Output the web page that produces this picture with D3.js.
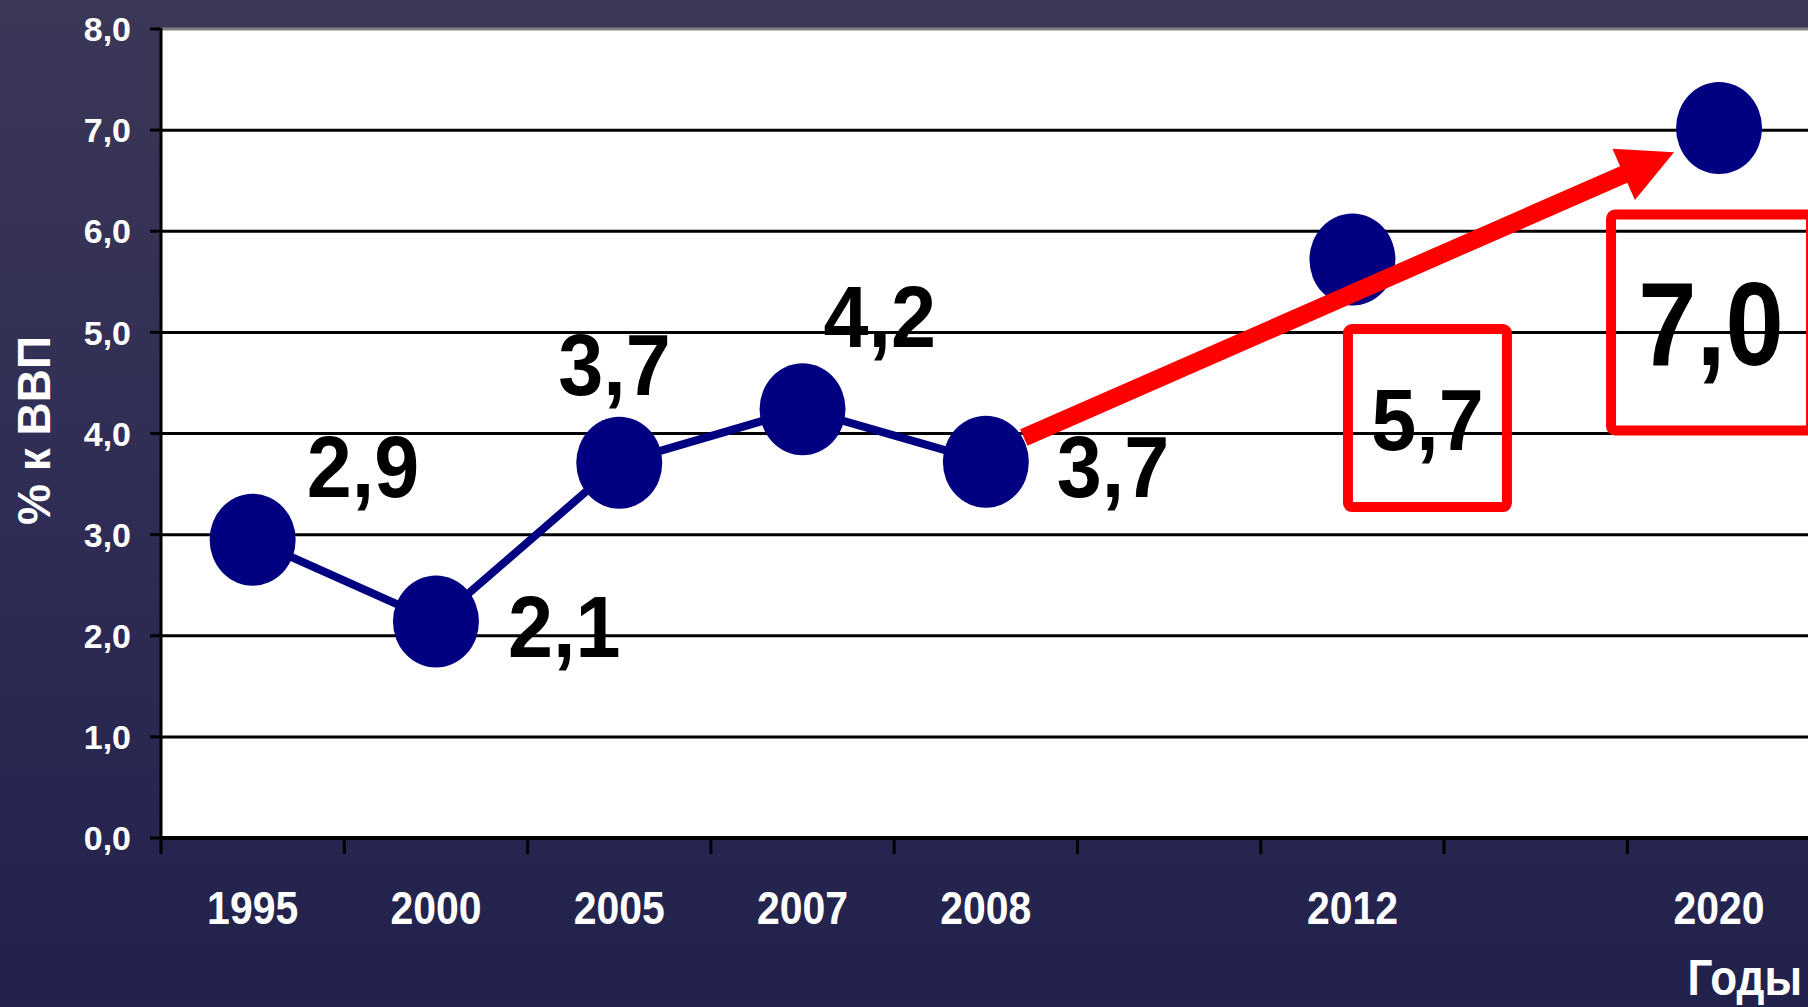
<!DOCTYPE html>
<html>
<head>
<meta charset="UTF-8">
<title>% к ВВП</title>
<script src="https://cdn.jsdelivr.net/npm/d3@7"></script>
<style>
  body { margin: 0; background: #2b2a50; }
  svg { display: block; }
  text { font-family: "Liberation Sans", Arial, sans-serif; font-weight: bold; }
</style>
</head>
<body>
<svg id="chart" width="1808" height="1007"></svg>
<script>
// categories on the x axis (two empty slots keep the spacing of the original)
const categories = ["1995", "2000", "2005", "2007", "2008", "", "2012", "", "2020"];

// actual values, joined by a line
const actualYears = ["1995", "2000", "2005", "2007", "2008"];
const actualValues = [2.95, 2.14, 3.71, 4.24, 3.72];
const actualLabels = ["2,9", "2,1", "3,7", "4,2", "3,7"];

// targets, markers only
const targetYears = ["2012", "2020"];
const targetValues = [5.72, 7.02];
const targetLabels = ["5,7", "7,0"];

const yTicks = [0, 1, 2, 3, 4, 5, 6, 7, 8];

// arrow from 2008 towards 2020
const arrowFrom = { year: "2008", value: 3.96 };
const arrowTo = { year: "2020", value: 6.78 };

// layout
const W = 1808, H = 1007;
const plotLeft = 161, plotTop = 29, plotBottom = 838;
const step = 183.3;
const actualLabelOffsets = [[54, -43], [72, 35], [-61, -68], [21, -62], [71, 35]];
const targetLabelOffsets = [[75, 190], [-8, 237]];
const targetFont = [88, 119];
const targetBox = [[159, 178], [200, 216]];

const svg = d3.select("#chart");

// background
const defs = svg.append("defs");
const grad = defs.append("linearGradient").attr("id", "bg")
    .attr("x1", 0).attr("y1", 0).attr("x2", 0).attr("y2", 1);
grad.append("stop").attr("offset", "0%").attr("stop-color", "#3b3757");
grad.append("stop").attr("offset", "55%").attr("stop-color", "#2e2c55");
grad.append("stop").attr("offset", "100%").attr("stop-color", "#21214b");
svg.append("rect").attr("width", W).attr("height", H).attr("fill", "url(#bg)");

// scales
const x = d3.scaleBand()
    .domain(d3.range(categories.length))
    .range([plotLeft, plotLeft + step * categories.length])
    .paddingInner(0).paddingOuter(0);
const y = d3.scaleLinear().domain([0, 8]).range([plotBottom, plotTop]);
const cx = year => x(categories.indexOf(year)) + x.bandwidth() / 2;

// plot area
svg.append("rect")
    .attr("x", plotLeft).attr("y", y(8))
    .attr("width", W - plotLeft).attr("height", y(0) - y(8))
    .attr("fill", "#fff");

// gridlines
svg.append("g").selectAll("line")
    .data(yTicks.filter(d => d > 0))
    .join("line")
    .attr("x1", plotLeft).attr("x2", W)
    .attr("y1", d => y(d)).attr("y2", d => y(d))
    .attr("stroke", d => d === 8 ? "#808080" : "#000")
    .attr("stroke-width", 3);

// y axis
const fmt = d => d3.format(".1f")(d).replace(".", ",");
svg.append("line")
    .attr("x1", plotLeft).attr("x2", plotLeft)
    .attr("y1", y(8) - 1).attr("y2", y(0))
    .attr("stroke", "#000").attr("stroke-width", 3);
svg.append("g").selectAll("line")
    .data(yTicks)
    .join("line")
    .attr("x1", plotLeft - 11).attr("x2", plotLeft)
    .attr("y1", d => y(d)).attr("y2", d => y(d))
    .attr("stroke", "#000").attr("stroke-width", 3);
svg.append("g").selectAll("text")
    .data(yTicks)
    .join("text")
    .attr("x", 131).attr("y", d => y(d))
    .attr("dy", "0.36em")
    .attr("text-anchor", "end")
    .attr("fill", "#fff")
    .attr("font-size", 34)
    .text(fmt);

svg.append("text")
    .attr("transform", "translate(50," + ((y(0) + y(8)) / 2 - 3) + ") rotate(-90)")
    .attr("text-anchor", "middle")
    .attr("fill", "#fff")
    .attr("font-size", 46)
    .text("% к ВВП");

// x axis
svg.append("line")
    .attr("x1", plotLeft - 1).attr("x2", W)
    .attr("y1", y(0)).attr("y2", y(0))
    .attr("stroke", "#000").attr("stroke-width", 4);
svg.append("g").selectAll("line")
    .data(d3.range(categories.length + 1))
    .join("line")
    .attr("x1", i => plotLeft + i * x.step()).attr("x2", i => plotLeft + i * x.step())
    .attr("y1", y(0)).attr("y2", y(0) + 16)
    .attr("stroke", "#000").attr("stroke-width", 3);
svg.append("g").selectAll("text")
    .data(categories)
    .join("text")
    .attr("transform", (d, i) => "translate(" + (x(i) + x.bandwidth() / 2) + ",924) scale(0.89,1)")
    .attr("text-anchor", "middle")
    .attr("fill", "#fff")
    .attr("font-size", 46)
    .text(d => d);

svg.append("text")
    .attr("transform", "translate(1802,995) scale(0.88,1)")
    .attr("text-anchor", "end")
    .attr("fill", "#fff")
    .attr("font-size", 50)
    .text("Годы");

// line for actual values
const actual = actualYears.map((d, i) => ({ year: d, value: actualValues[i], label: actualLabels[i], off: actualLabelOffsets[i] }));
const target = targetYears.map((d, i) => ({ year: d, value: targetValues[i], label: targetLabels[i], off: targetLabelOffsets[i], font: targetFont[i], box: targetBox[i] }));

svg.append("path")
    .datum(actual)
    .attr("fill", "none")
    .attr("stroke", "#000080")
    .attr("stroke-width", 8)
    .attr("d", d3.line().x(d => cx(d.year)).y(d => y(d.value)));

// markers
svg.append("g").selectAll("ellipse")
    .data(actual.concat(target))
    .join("ellipse")
    .attr("cx", d => cx(d.year)).attr("cy", d => y(d.value))
    .attr("rx", 43).attr("ry", 46)
    .attr("fill", "#000080");

// red arrow
const sx = cx(arrowFrom.year) + 38, sy = y(arrowFrom.value);
const tx = cx(arrowTo.year) - 45, ty = y(arrowTo.value);
const len = Math.hypot(tx - sx, ty - sy);
const ux = (tx - sx) / len, uy = (ty - sy) / len;
const nx = -uy, ny = ux;
const headLen = 55, shaftW = 18, headW = 56;
const bx = tx - ux * headLen, by = ty - uy * headLen;
const pts = [
    [sx + nx * shaftW / 2, sy + ny * shaftW / 2],
    [bx + nx * shaftW / 2, by + ny * shaftW / 2],
    [bx + nx * headW / 2, by + ny * headW / 2],
    [tx, ty],
    [bx - nx * headW / 2, by - ny * headW / 2],
    [bx - nx * shaftW / 2, by - ny * shaftW / 2],
    [sx - nx * shaftW / 2, sy - ny * shaftW / 2]
];
svg.append("polygon")
    .attr("points", pts.map(p => p.join(",")).join(" "))
    .attr("fill", "#ff0000");

// labels for actual values
svg.append("g").selectAll("text")
    .data(actual)
    .join("text")
    .attr("transform", d => "translate(" + (cx(d.year) + d.off[0]) + "," + (y(d.value) + d.off[1]) + ") scale(0.92,1)")
    .attr("fill", "#000")
    .attr("font-size", 88)
    .text(d => d.label);

// boxed labels for targets
const tg = svg.append("g").selectAll("g")
    .data(target)
    .join("g")
    .attr("transform", d => "translate(" + (cx(d.year) + d.off[0]) + "," + (y(d.value) + d.off[1]) + ")");
tg.append("rect")
    .attr("x", d => -d.box[0] / 2)
    .attr("y", d => -d.font * 0.358 - d.box[1] / 2)
    .attr("width", d => d.box[0])
    .attr("height", d => d.box[1])
    .attr("rx", 4)
    .attr("fill", "none")
    .attr("stroke", "#ff0000")
    .attr("stroke-width", 10);
tg.append("text")
    .attr("transform", d => "scale(" + (d.font > 100 ? 0.88 : 0.92) + ",1)")
    .attr("text-anchor", "middle")
    .attr("fill", "#000")
    .attr("font-size", d => d.font)
    .text(d => d.label);
</script>
</body>
</html>
